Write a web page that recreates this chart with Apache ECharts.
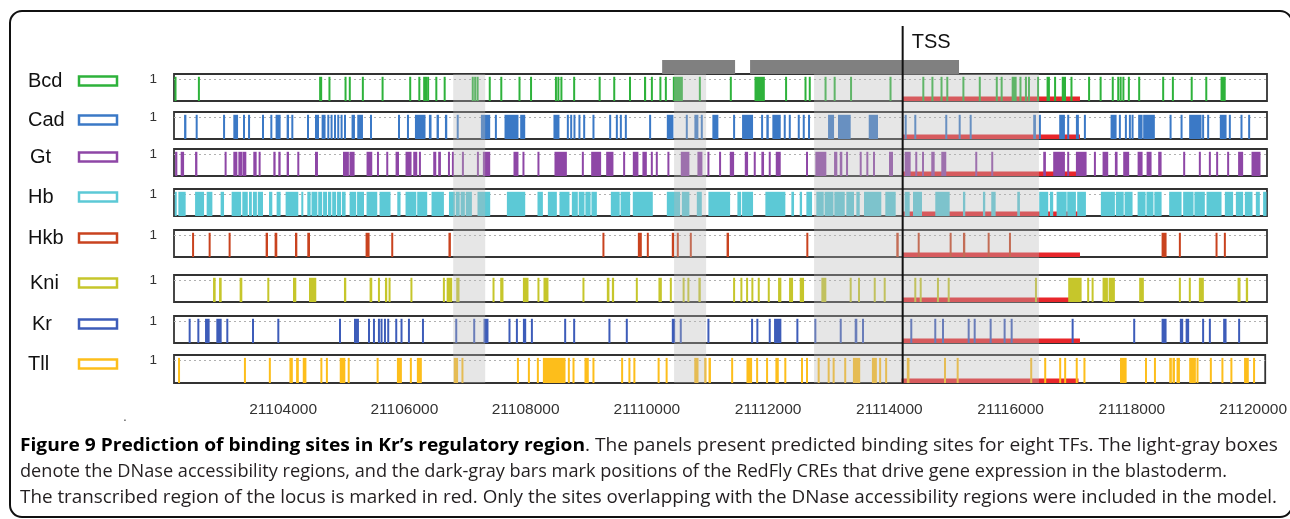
<!DOCTYPE html>
<html><head><meta charset="utf-8">
<script src="https://cdn.jsdelivr.net/npm/echarts@6.0.0/dist/echarts.min.js"></script>
<style>html,body{margin:0;padding:0;background:#fff}#chart{width:1290px;height:519px}</style>
</head><body><div id="chart"></div>
<script>
// ---------------- DATA ----------------
const X_MIN = 21102200, X_MAX = 21120200;
const X_TICKS = [21104000, 21106000, 21108000, 21110000, 21112000, 21114000, 21116000, 21118000, 21120000];
const Y_TICK = 1;
const SITE_SCORE = 1.1;
const TRACKS = ['Bcd', 'Cad', 'Gt', 'Hb', 'Hkb', 'Kni', 'Kr', 'Tll'];
const TSS = 21114200;
const TSS_LABEL = 'TSS';
const TRANSCRIBED = [21114200, 21117120];
const DNASE = [[21106798, 21107325], [21110436, 21110963], [21112741, 21116444]];
const CRE = [[21110239, 21111440], [21111687, 21115128]];
// binding sites: single number = narrow site, [start, end] = wider site
const bcd = [[21102210,21102240],21102610,[21104590,21104640],21104760,[21105010,21105040],[21105080,21105110],21105310,[21105620,21105650],[21106080,21106100],21106240,21106320,21106350,21106385,21106520,[21106645,21106670],21107120,21107160,21107200,21107400,21107590,21107890,21108080,21108490,21108530,21108580,21108790,21109210,21109450,21109710,[21109940,21109975],21110070,21110210,21110300,[21110415,21110580],21110860,21111370,[21111760,21111930],21112280,21112600,21112670,21112930,21113080,21113350,21114000,21114540,21114690,21114840,21114935,21115200,21115470,21115750,21115830,[21115995,21116077],21116140,21116230,21116280,21116430,[21116570,21116625],21116710,[21116820,21116890],21116980,21117270,21117460,21117660,21117750,21117790,21117835,21117925,21118095,21118490,21118650,21118960,21119200,[21119435,21119520]];
const cad = [[21102366,21102404],[21102557,21102590],[21103008,21103041],[21103177,21103255],21103353,21103436,21103666,21103803,[21103873,21103956],[21104055,21104094],[21104132,21104165],21104407,[21104522,21104588],[21104631,21104696],21104741,21104795,21104851,21104905,21104960,21105016,[21105124,21105180],[21105218,21105312],21105444,21105905,21106053,[21106168,21106342],[21106398,21106441],[21106524,21106563],[21106662,21106700],[21106859,21106886],[21107254,21107407],21107501,[21107643,21107873],[21107901,21107984],[21108449,21108548],21108686,21108741,21108795,21108877,21108955,21109108,21109383,21109493,21109559,21109641,21110041,[21110316,21110425],21110645,[21110770,21110836],21110892,[21111066,21111165],21111424,[21111555,21111736],21111885,[21111955,21111995],[21112054,21112192],21112258,21112341,21112489,21112571,21112658,[21112971,21113070],[21113135,21113344],[21113641,21113794],21114250,21114408,21114918,21115139,21115320,[21116350,21116395],21116460,[21116778,21116872],21116926,[21117053,21117102],21117201,[21117624,21117723],21117777,21117876,21117942,21117986,[21118078,21118151],[21118161,21118353],21118612,21118793,[21118918,21119122],21119148,21119231,[21119423,21119534],21119588,21119780,21119906];
const gt = [[21102218,21102255],[21102310,21102366],[21102547,21102585],21103050,[21103177,21103243],[21103260,21103326],[21103330,21103391],[21103506,21103561],21103610,[21103836,21103873],[21103918,21103956],[21104055,21104094],21104247,[21104522,21104571],[21104983,21105080],[21105090,21105174],[21105371,21105465],21105559,21105712,[21105849,21105905],[21106013,21106112],[21106140,21106206],21106250,[21106469,21106519],[21106551,21106596],21106728,21106793,21106958,21107205,[21107287,21107407],[21107791,21107873],21107955,21108202,[21108466,21108670],21108933,[21109070,21109234],[21109317,21109437],21109613,[21109756,21109848],[21109914,21109987],21110069,21110151,21110342,[21110546,21110688],[21110820,21110902],21111001,21111193,[21111353,21111424],[21111600,21111654],21111764,[21111873,21111917],21112011,[21112110,21112192],21112625,[21112762,21112943],[21113070,21113124],[21113164,21113206],21113284,21113509,21113618,21113728,[21113975,21114041],[21114233,21114332],21114424,21114535,[21114671,21114727],[21114836,21114918],21115412,21115675,[21116515,21116559],[21116679,21116872],21116926,[21117053,21117229],21117366,[21117492,21117585],[21117695,21117739],[21117832,21117930],[21118069,21118151],[21118217,21118299],[21118408,21118464],21118836,21119094,21119259,21119379,21119560,[21119724,21119807],[21119945,21120093]];
const hb = [[21102218,21102240],[21102272,21102392],[21102547,21102695],[21102738,21102832],[21102968,21103024],[21103149,21103305],[21103325,21103415],[21103435,21103482],[21103500,21103565],[21103580,21103666],[21103765,21103819],[21103890,21103956],[21104038,21104247],21104313,[21104395,21104450],[21104465,21104560],[21104575,21104640],[21104655,21104720],[21104735,21104790],[21104805,21104870],[21104885,21104950],[21104965,21105026],[21105092,21105200],[21105215,21105329],[21105371,21105547],[21105585,21105766],[21105877,21105931],[21106013,21106190],[21106205,21106370],[21106441,21106645],[21106728,21106825],[21106840,21106905],[21106920,21106990],[21107005,21107106],[21107198,21107407],[21107682,21107984],[21108186,21108275],[21108357,21108505],[21108548,21108713],[21108752,21108850],[21108865,21108960],[21108975,21109060],[21109075,21109164],[21109394,21109540],[21109555,21109712],[21109756,21110085],[21110316,21110535],[21110563,21110688],[21110810,21110892],[21111001,21111358],[21111478,21111540],[21111555,21111736],[21111939,21112268],[21112367,21112411],[21112505,21112543],[21112614,21112708],[21112778,21112900],[21112915,21113060],[21113075,21113246],[21113272,21113399],[21113437,21113493],[21113563,21113848],[21113914,21114085],[21114233,21114316],[21114370,21114518],[21114737,21114974],[21115193,21115231],[21115522,21115560],[21115659,21115731],[21116087,21116131],[21116449,21116597],[21116625,21116679],[21116735,21116900],[21116910,21117053],[21117074,21117218],[21117464,21117695],[21117711,21117840],[21117855,21117986],[21118069,21118200],[21118215,21118330],[21118345,21118464],[21118589,21118793],[21118819,21118990],[21119005,21119176],[21119204,21119451],[21119506,21119642],[21119687,21119807],[21119835,21119961],[21120016,21120082],[21120136,21120192]];
const hkb = [21102514,21102787,21103116,[21103709,21103748],[21103857,21103901],[21104193,21104231],[21104395,21104440],[21105355,21105421],21105794,[21106720,21106760],21109272,[21109839,21109904],21110003,[21110398,21110436],21110497,21110711,[21111300,21111340],21112630,[21114095,21114135],21114464,21114990,[21115193,21115231],21115616,21115967,[21118464,21118546],21118765,21119369,21119506];
const kni = [[21102843,21102886],[21102942,21102985],[21103281,21103325],21103753,[21104160,21104214],[21104423,21104543],[21104999,21105037],[21105421,21105465],21105575,[21105674,21105712],21105750,[21106096,21106124],[21106629,21106660],[21106690,21106782],[21106848,21106902],21107462,[21107572,21107626],[21107946,21108038],21108202,[21108285,21108367],21108943,[21109328,21109371],[21109411,21109448],21109822,[21110178,21110234],21110382,[21110579,21110606],21110671,[21110836,21110875],21111424,21111544,21111638,21111725,21111830,21111995,[21112148,21112202],[21112329,21112395],[21112505,21112576],[21112861,21112943],21113344,21113481,21113740,21113904,21114408,21114497,21114781,21114958,21116395,[21116926,21117147],21117255,21117328,[21117492,21117580],[21117592,21117695],[21118095,21118172],21118765,21118929,[21119078,21119160],[21119715,21119764],[21119851,21119889]];
const kr = [21102458,21102601,[21102711,21102787],[21102897,21102985],21103078,21103501,21103918,21104934,[21105164,21105246],21105411,21105493,21105575,21105618,21105674,21105728,21105860,21105947,21106069,21106300,21106848,21107144,[21107297,21107379],21107725,21107847,[21107946,21108000],21108094,21108642,21108790,21109371,21109657,[21110398,21110453],21110546,21111001,21111720,21111807,21112011,[21112082,21112202],21112466,21112762,21113180,[21113410,21113453],21113547,21114342,21114737,21114864,21115287,21115386,21115649,21115879,21115995,21116999,21118013,[21118464,21118546],[21118765,21118820],[21118860,21118918],21119148,21119259,[21119478,21119534],21119741];
const tll = [21102283,21103370,21103781,[21104104,21104160],[21104214,21104259],[21104324,21104384],21104631,[21104708,21104736],[21104934,21105026],21105082,21105559,[21105877,21105959],21106107,[21106206,21106288],[21106815,21106886],21106958,21107873,21108054,21108202,[21108285,21108658],21108713,21108790,[21108971,21109042],21109119,21109592,21109712,21109794,21110194,21110326,[21110782,21110852],[21110946,21110984],[21111017,21111057],21111407,[21111643,21111736],21111819,21111983,[21112120,21112176],21112284,21112559,21112642,21112834,21112999,21113081,21113272,[21113399,21113519],[21113712,21113794],21113848,21113947,[21114288,21114332],21114918,21115127,21116340,21116571,21116818,21116900,21117091,21117218,[21117805,21117914],21118233,21118381,[21118617,21118660],[21118670,21118711],[21118737,21118793],[21118946,21119056],21119083,21119303,21119494,21119642,[21119851,21119929],21120016];
const SITES = [bcd, cad, gt, hb, hkb, kni, kr, tll];

const CAPTION = [
  [{t: 'Figure 9 Prediction of binding sites in Kr\u2019s regulatory region', b: true}, {t: '. The panels present predicted binding sites for eight TFs. The light-gray boxes', b: false}],
  [{t: 'denote the DNase accessibility regions, and the dark-gray bars mark positions of the RedFly CREs that drive gene expression in the blastoderm.', b: false}],
  [{t: 'The transcribed region of the locus is marked in red. Only the sites overlapping with the DNase accessibility regions were included in the model.', b: false}]
];

// ---------------- STYLE / LAYOUT ----------------
const COLORS = ['#2eb23b', '#3b79c6', '#8e47a6', '#5cc9d6', '#c9431f', '#c6c62b', '#3d5cb9', '#fdbe1b'];
const PANEL_TOP = [74, 112, 149, 189, 230, 275, 316, 355];
const PANEL_H = [27, 27, 27, 27, 27, 27, 27, 28];
const LEG_CY = [82, 121, 158, 198, 239, 284, 325, 365];
const LEG_LEFT = [28, 28, 30, 28, 28, 30, 32, 28];
const GL = 174, GR = 23;
const LABEL_FONT = 'Liberation Sans';

const chart = echarts.init(document.getElementById('chart'), null, {renderer: 'canvas'});

const grids = [], xAxes = [], yAxes = [], series = [];
TRACKS.forEach((name, i) => {
  grids.push({left: GL, right: GR, top: PANEL_TOP[i], height: PANEL_H[i], show: true,
    borderColor: '#333', borderWidth: 1.8, backgroundColor: 'transparent'});
  xAxes.push({gridIndex: i, type: 'value', min: X_MIN, max: X_MAX, show: i === TRACKS.length - 1,
    axisLine: {show: false}, axisTick: {show: false}, splitLine: {show: false},
    axisLabel: {customValues: X_TICKS, margin: 19, fontSize: 15.5, color: '#333', fontFamily: LABEL_FONT,
      formatter: v => String(v)}});
  yAxes.push({gridIndex: i, type: 'value', min: 0, max: 1.227, interval: Y_TICK,
    axisLine: {show: false}, axisTick: {show: false},
    axisLabel: {formatter: v => (v === Y_TICK ? String(Y_TICK) : ''), margin: 17, fontSize: 13.5, color: '#333', fontFamily: LABEL_FONT},
    splitLine: {show: true, showMinLine: false, showMaxLine: false, lineStyle: {type: [2, 3], color: '#b0b0b0', width: 1}}});
  // transcribed region (red)
  series.push({type: 'custom', name: 'transcribed ' + name, xAxisIndex: i, yAxisIndex: i, z: 1, silent: true, clip: true,
    encode: {x: [0, 1], y: 2},
    data: [[TRANSCRIBED[0], TRANSCRIBED[1], 0]],
    renderItem: (params, api) => {
      const a = api.coord([api.value(0), 0]), b = api.coord([api.value(1), 0]);
      return {type: 'rect', shape: {x: a[0], y: a[1] - 4.5, width: b[0] - a[0], height: 4.5}, style: {fill: '#e8262b'}};
    }});
  // binding sites
  const color = COLORS[i];
  series.push({type: 'custom', name, xAxisIndex: i, yAxisIndex: i, z: 2, silent: true, clip: true,
    itemStyle: {color},
    encode: {x: [0, 1], y: 2},
    data: SITES[i].map(s => Array.isArray(s) ? [s[0], s[1], SITE_SCORE] : [s, s, SITE_SCORE]),
    renderItem: (params, api) => {
      const p0 = api.coord([api.value(0), api.value(2)]);
      const p1 = api.coord([api.value(1), 0]);
      let x = p0[0], w = p1[0] - p0[0];
      if (w < 2) { const c = (p0[0] + p1[0]) / 2; x = c - 1; w = 2; }
      return {type: 'rect', shape: {x, y: p0[1], width: w, height: p1[1] - p0[1]}, style: {fill: color}};
    }});
});

// overlay grids: DNase (8), CRE (9), TSS (10)
const ovTop = PANEL_TOP[0], ovBottom = PANEL_TOP[7] + PANEL_H[7];
grids.push({left: GL, right: GR, top: ovTop, height: ovBottom - ovTop});
grids.push({left: GL, right: GR, top: 60, height: ovTop - 60});
grids.push({left: GL, right: GR, top: 26, height: ovBottom - 26});
[8, 9, 10].forEach(g => {
  xAxes.push({gridIndex: g, type: 'value', min: X_MIN, max: X_MAX, show: false});
  yAxes.push({gridIndex: g, type: 'value', min: 0, max: 1, show: false});
});
series.push({type: 'custom', name: 'DNase', xAxisIndex: 8, yAxisIndex: 8, z: 3, silent: true,
  encode: {x: [0, 1]},
  data: DNASE,
  renderItem: (params, api) => {
    const a = api.coord([api.value(0), 1]), b = api.coord([api.value(1), 0]);
    return {type: 'rect', shape: {x: a[0], y: a[1], width: b[0] - a[0], height: b[1] - a[1]}, style: {fill: 'rgba(185,185,185,0.36)'}};
  }});
series.push({type: 'custom', name: 'CRE', xAxisIndex: 9, yAxisIndex: 9, z: 3, silent: true,
  encode: {x: [0, 1]},
  data: CRE,
  renderItem: (params, api) => {
    const a = api.coord([api.value(0), 1]), b = api.coord([api.value(1), 0]);
    return {type: 'rect', shape: {x: a[0], y: a[1], width: b[0] - a[0], height: b[1] - a[1]}, style: {fill: '#808080'}};
  }});
series.push({type: 'custom', name: 'TSS', xAxisIndex: 10, yAxisIndex: 10, z: 4, silent: true,
  encode: {x: 0},
  data: [[TSS]],
  renderItem: (params, api) => {
    const t = api.coord([api.value(0), 1]), b = api.coord([api.value(0), 0]);
    return {type: 'group', children: [
      {type: 'line', shape: {x1: t[0], y1: t[1], x2: b[0], y2: b[1]}, style: {stroke: '#111', lineWidth: 2}},
      {type: 'text', x: t[0] + 9, y: t[1] + 16, style: {text: TSS_LABEL, font: '20px "' + LABEL_FONT + '"', fill: '#111', verticalAlign: 'middle', align: 'left'}}
    ]};
  }});

// legends
const legends = TRACKS.map((name, i) => ({
  data: [{name, icon: 'rect', itemStyle: {color: '#fff', borderColor: COLORS[i], borderWidth: 2.5}}],
  left: LEG_LEFT[i], top: LEG_CY[i] - 11, align: 'right', orient: 'horizontal',
  itemWidth: 38, itemHeight: 9, padding: 0, selectedMode: false,
  formatter: '{a|{name}}',
  textStyle: {rich: {a: {width: 46 - (LEG_LEFT[i] - 28), align: 'left', fontSize: 20, fontFamily: LABEL_FONT, color: '#111', lineHeight: 22}}}
}));

// caption (each line fitted to its width in the picture)
const CAP_SIZE = 18, CAP_FAMILY = 'Open Sans', CAP_X = 20;
const CAP_Y = [445.5, 472, 498];
const CAP_W = [1258, 1207, 1257];
const ctx = document.createElement('canvas').getContext('2d');
const fontStr = b => (b ? '700 ' : '400 ') + CAP_SIZE + 'px "' + CAP_FAMILY + '"';
const measure = (t, b) => { ctx.font = fontStr(b); return ctx.measureText(t).width; };
const graphics = [];
CAPTION.forEach((line, k) => {
  const natural = line.reduce((s, seg) => s + measure(seg.t, seg.b), 0);
  const sx = CAP_W[k] / natural;
  let x = CAP_X;
  line.forEach(seg => {
    graphics.push({type: 'text', x, y: CAP_Y[k], scaleX: sx, silent: true,
      style: {text: seg.t, font: fontStr(seg.b), fill: seg.b ? '#000' : '#231f20', verticalAlign: 'middle', align: 'left'}});
    x += measure(seg.t, seg.b) * sx;
  });
});
graphics.push({type: 'rect', silent: true, shape: {x: 10, y: 11, width: 1282, height: 506, r: 12},
  style: {fill: 'transparent', stroke: '#111', lineWidth: 2}});
graphics.push({type: 'text', x: 123, y: 410, silent: true, style: {text: '.', font: '14px "' + LABEL_FONT + '"', fill: '#555'}});

chart.setOption({
  animation: false,
  backgroundColor: '#fff',
  grid: grids, xAxis: xAxes, yAxis: yAxes, series, legend: legends,
  graphic: {elements: graphics}
});
</script></body></html>
